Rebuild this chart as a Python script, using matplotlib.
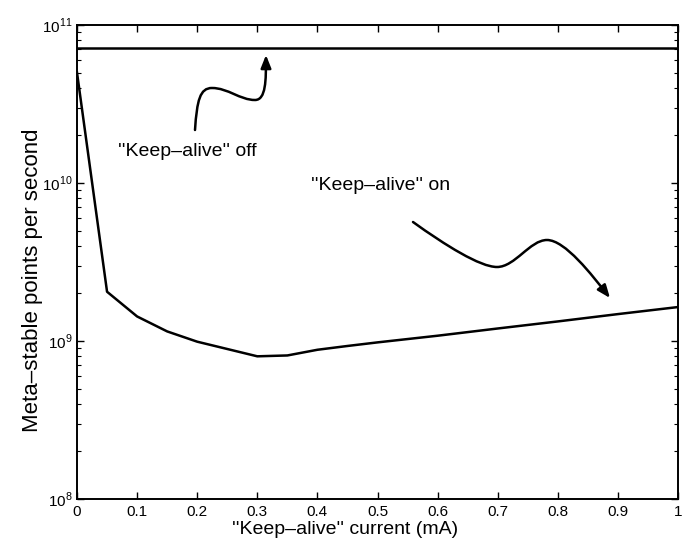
import numpy as np
import matplotlib
matplotlib.use("Agg")
import matplotlib.pyplot as plt
from matplotlib.path import Path
from matplotlib.patches import FancyArrowPatch
from matplotlib.ticker import LogLocator, FixedLocator, FuncFormatter

plt.rcParams['font.family'] = ['Liberation Sans', 'DejaVu Sans']
plt.rcParams['mathtext.fontset'] = 'custom'
plt.rcParams['mathtext.rm'] = 'Liberation Sans'

# Keep-alive current (mA) and meta-stable point rate
current_ma = [0.0, 0.05, 0.10, 0.15, 0.20, 0.25, 0.30, 0.35, 0.40, 0.45,
              0.50, 0.60, 0.70, 0.80, 0.90, 1.00]
rate_on = [5.0e10, 2.05e9, 1.43e9, 1.15e9, 0.99e9, 0.89e9, 0.80e9, 0.81e9,
           0.88e9, 0.93e9, 0.98e9, 1.08e9, 1.20e9, 1.33e9, 1.48e9, 1.64e9]
rate_off = 7.2e10

x_ticks = [0, 0.1, 0.2, 0.3, 0.4, 0.5, 0.6, 0.7, 0.8, 0.9, 1]
x_labels = ["0", "0.1", "0.2", "0.3", "0.4", "0.5", "0.6", "0.7", "0.8", "0.9", "1"]

fig = plt.figure(figsize=(6.86, 5.48), dpi=100)
ax = fig.add_axes([77 / 686, 1 - 499 / 548, 601 / 686, 474 / 548])

ax.plot(current_ma, rate_on, color='black', lw=1.8)
ax.axhline(rate_off, color='black', lw=1.8)

ax.set_yscale('log')
ax.set_xlim(0, 1)
ax.set_ylim(1e8, 1e11)
ax.xaxis.set_major_locator(FixedLocator(x_ticks))
ax.set_xticklabels(x_labels)
ax.yaxis.set_major_locator(LogLocator(base=10, numticks=10))
ax.yaxis.set_minor_locator(LogLocator(base=10, subs=np.arange(2, 10), numticks=20))
ax.yaxis.set_major_formatter(FuncFormatter(lambda v, p: r'$10^{%d}$' % int(round(np.log10(v)))))

ax.tick_params(which='both', direction='in', top=True, right=True, labelsize=11)
ax.tick_params(axis='x', pad=4)
ax.tick_params(which='major', length=5, width=1)
ax.tick_params(which='minor', length=3, width=0.8)
for s in ax.spines.values():
    s.set_linewidth(1.4)


def px(x, y):
    # pixel position in the figure -> axes fraction
    return ((x - 77) / 601, (499 - y) / 474)


ax.set_xlabel("''Keep\u2013alive'' current (mA)", fontsize=14)
ax.xaxis.set_label_coords(*px(345, 521))
ax.set_ylabel("Meta\u2013stable points per second", fontsize=16)
ax.yaxis.set_label_coords(*px(43, 280))


def wavy_arrow(points):
    verts = [px(*p) for p in points]
    codes = [Path.MOVETO] + [Path.CURVE4] * (len(verts) - 1)
    arrow = FancyArrowPatch(path=Path(verts, codes), transform=ax.transAxes,
                            arrowstyle='-|>,head_length=0.55,head_width=0.22',
                            mutation_scale=14, lw=1.8, color='black')
    ax.add_patch(arrow)


wavy_arrow([(195, 130), (197, 100), (200, 88), (212, 88),
            (228, 88), (240, 100), (255, 100),
            (266, 100), (266, 80), (266, 55)])
wavy_arrow([(413, 222), (445, 245), (480, 267), (497, 267),
            (515, 267), (530, 240), (547, 240),
            (565, 240), (592, 275), (610, 298)])

ax.text(*px(187, 152), "''Keep\u2013alive'' off", transform=ax.transAxes,
        ha='center', va='center', fontsize=14)
ax.text(*px(381, 185), "''Keep\u2013alive'' on", transform=ax.transAxes,
        ha='center', va='center', fontsize=14)

fig.savefig("out.png", dpi=100)
